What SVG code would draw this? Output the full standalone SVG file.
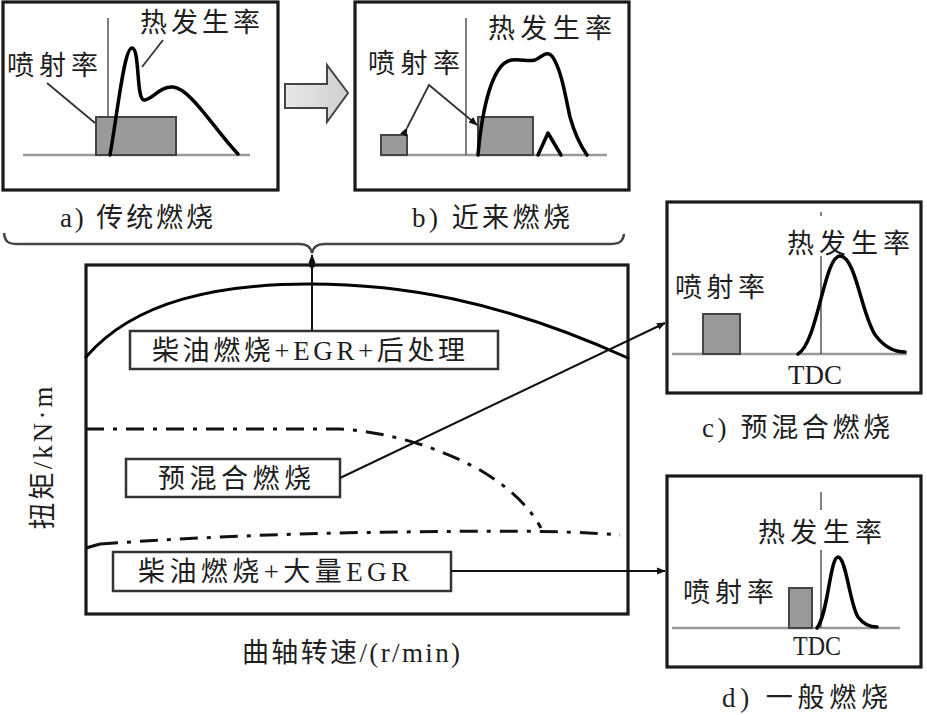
<svg xmlns="http://www.w3.org/2000/svg" width="927" height="715" viewBox="0 0 927 715">
<style>
text{font-family:"Liberation Serif","Noto Sans CJK SC",serif;fill:#1e1e1e;font-size:27px}
.box{fill:#fff;stroke:#1a1a1a;stroke-width:3.2}
.lbl{fill:#fff;stroke:#333;stroke-width:2.5}
.axis{stroke:#999;stroke-width:2.5;fill:none}
.vline{stroke:#555;stroke-width:1.5;fill:none}
.curve{stroke:#000;stroke-width:3.5;fill:none;stroke-linejoin:round;stroke-linecap:round}
.inj{fill:#9a9a9a;stroke:#444;stroke-width:2}
.lead{stroke:#333;stroke-width:1.8;fill:none}
.dd{stroke:#111;stroke-width:3;fill:none;stroke-dasharray:18,9,4,9}
.conn{stroke:#111;stroke-width:2;fill:none}
</style>
<defs>
<marker id="ah" viewBox="0 0 10 10" refX="9" refY="5" markerWidth="9" markerHeight="9" markerUnits="userSpaceOnUse" orient="auto">
<path d="M0,1 L10,5 L0,9 z" fill="#111"/>
</marker>
<linearGradient id="ag" x1="0" y1="0" x2="1" y2="0"><stop offset="0" stop-color="#e8e8e8"/><stop offset="1" stop-color="#d0d0d0"/></linearGradient>
</defs>

<g id="panel-a">
<rect class="box" x="3" y="2" width="275" height="188"/>
<line class="axis" x1="23" y1="155" x2="250" y2="155"/>
<line class="vline" x1="108" y1="18" x2="108" y2="155"/>
<rect class="inj" x="96" y="117" width="80" height="38"/>
<path class="curve" d="M110,155 C118,110 124,48 132,48 C140,48 136,100 144,100 C152,100 160,86 173,87 C190,88 215,130 238,154"/>
<line class="lead" x1="163" y1="40" x2="142" y2="67"/>
<line class="lead" x1="47" y1="83" x2="95" y2="123"/>
<text x="140" y="32" textLength="120" lengthAdjust="spacing">热发生率</text>
<text x="7" y="75" textLength="91" lengthAdjust="spacing">喷射率</text>
<text x="60" y="227" textLength="153" lengthAdjust="spacing">a) 传统燃烧</text>
</g>

<g id="arrow-ab">
<path d="M285,84 L327,84 L327,65 L348,93 L327,122 L327,108 L285,108 z" fill="url(#ag)" stroke="#444" stroke-width="2"/>
</g>

<g id="panel-b">
<rect class="box" x="355" y="2" width="274" height="188"/>
<line class="axis" x1="380" y1="155" x2="607" y2="155"/>
<line class="vline" x1="466" y1="18" x2="466" y2="155"/>
<rect class="inj" x="381" y="135" width="26" height="20"/>
<rect class="inj" x="478" y="117" width="55" height="38"/>
<path class="curve" d="M478,155 C482,110 492,62 512,60 C522,59 528,62 535,60 C542,57 547,50 552,56 C562,70 566,100 570,117 C575,135 580,145 587,155"/>
<path class="curve" d="M538,155 L548,133 L561,155"/>
<polyline class="lead" points="407,128 429,85 477,125" marker-start="url(#ah)" marker-end="url(#ah)"/>
<text x="488" y="38" textLength="124" lengthAdjust="spacing">热发生率</text>
<text x="368" y="73" textLength="92" lengthAdjust="spacing">喷射率</text>
<text x="412" y="227" textLength="158" lengthAdjust="spacing">b) 近来燃烧</text>
</g>

<g id="brace">
<path d="M4,233 C5,242 8,244 18,244 L300,244 C308,244 311,248 312,253 C313,248 316,244 324,244 L610,244 C620,244 623,241 624,234" fill="none" stroke="#444" stroke-width="2.5"/>
</g>

<g id="chart">
<rect class="box" x="86" y="265" width="542" height="349"/>
<path class="curve" d="M86,357 C135,300 220,284 310,284 C400,284 500,300 628,358" style="stroke-width:3"/>
<path class="dd" d="M86,429 L340,429 C390,432 440,448 480,470 C510,488 528,505 541,528"/>
<path d="M86,548 L100,544" stroke="#111" stroke-width="3"/>
<path class="dd" d="M100,544 C200,537 300,533 400,532 C480,531 560,530 620,535"/>
<text transform="translate(52,458) rotate(-90)" text-anchor="middle" textLength="143" lengthAdjust="spacing">扭矩/kN·m</text>
<text x="242" y="662" textLength="218" lengthAdjust="spacing">曲轴转速/(r/min)</text>
</g>

<g id="label-diesel-egr-aft">
<rect class="lbl" x="130" y="331" width="368" height="38"/>
<text x="152" y="360" textLength="313" lengthAdjust="spacing">柴油燃烧+EGR+后处理</text>
</g>

<g id="label-premix">
<rect class="lbl" x="126" y="459" width="214" height="38"/>
<text x="158" y="488" textLength="153" lengthAdjust="spacing">预混合燃烧</text>
</g>

<g id="label-diesel-bigegr">
<rect class="lbl" x="113" y="552" width="338" height="39"/>
<text x="138" y="581" textLength="271" lengthAdjust="spacing">柴油燃烧+大量EGR</text>
</g>

<g id="panel-c">
<rect class="box" x="667" y="202" width="254" height="191"/>
<line class="axis" x1="672" y1="354" x2="907" y2="354"/>
<line class="vline" x1="821" y1="212" x2="821" y2="216"/>
<line class="vline" x1="821" y1="256" x2="821" y2="354"/>
<rect class="inj" x="703" y="314" width="37" height="40"/>
<path class="curve" d="M798,354 C818,342 824,256 840,256 C856,256 862,318 876,336 C886,349 896,352 905,352"/>
<text x="787" y="253" textLength="123" lengthAdjust="spacing">热发生率</text>
<text x="675" y="297" textLength="90" lengthAdjust="spacing">喷射率</text>
<text x="815" y="384" text-anchor="middle" font-size="29">TDC</text>
<text x="702" y="437" textLength="188" lengthAdjust="spacing">c) 预混合燃烧</text>
</g>

<g id="panel-d">
<rect class="box" x="667" y="476" width="254" height="191"/>
<line class="axis" x1="672" y1="628" x2="900" y2="628"/>
<line class="vline" x1="821" y1="492" x2="821" y2="510"/>
<line class="vline" x1="821" y1="550" x2="821" y2="628"/>
<rect class="inj" x="789" y="588" width="23" height="40"/>
<path class="curve" d="M817,628 C828,615 830,557 838,557 C846,557 850,605 858,617 C864,625 870,627 877,627"/>
<text x="758" y="542" textLength="124" lengthAdjust="spacing">热发生率</text>
<text x="683" y="602" textLength="91" lengthAdjust="spacing">喷射率</text>
<text x="817" y="655" text-anchor="middle" font-size="26" textLength="48" lengthAdjust="spacingAndGlyphs">TDC</text>
<text x="722" y="707" textLength="166" lengthAdjust="spacing">d) 一般燃烧</text>
</g>

<g id="connectors">
<line class="conn" x1="312" y1="331" x2="312" y2="255" marker-end="url(#ah)"/>
<circle cx="312" cy="265" r="3" fill="#111"/>
<line class="conn" x1="340" y1="478" x2="665" y2="323" marker-end="url(#ah)"/>
<line class="conn" x1="451" y1="571" x2="665" y2="571" marker-end="url(#ah)"/>
</g>
</svg>
